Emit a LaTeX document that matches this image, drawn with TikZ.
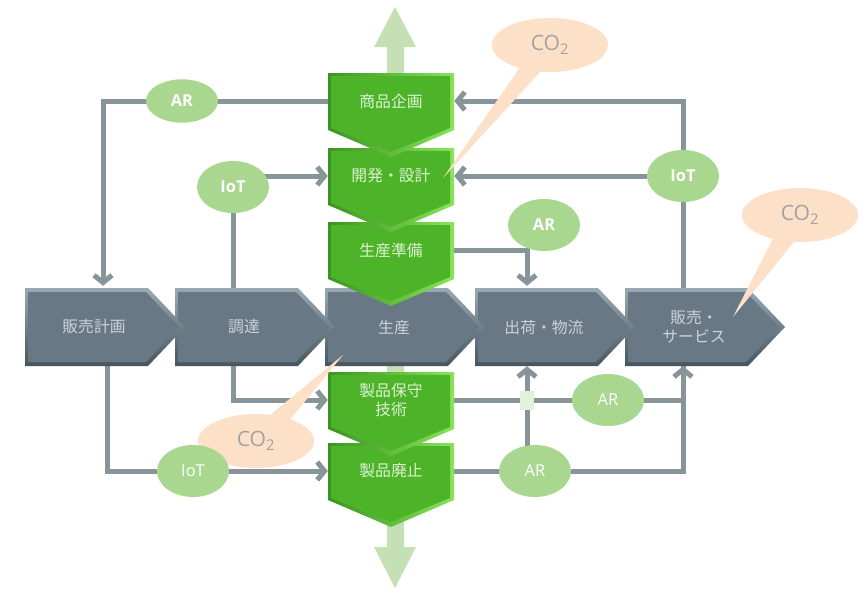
\documentclass[tikz,border=0pt]{standalone}
\usepackage{fontspec}
\setmainfont{Open Sans}
\newfontfamily\jpfont{Noto Sans CJK JP}
\usetikzlibrary{calc}
\usetikzlibrary{shapes.geometric}
\usetikzlibrary{shapes.callouts}
\usetikzlibrary{arrows.meta}

\definecolor{wiregray}{HTML}{87959A}
\definecolor{procmain}{HTML}{687985}
\definecolor{proctop}{HTML}{9AAAB5}
\definecolor{procbot}{HTML}{48555E}
\definecolor{procfont}{HTML}{CBD3D8}
\definecolor{stepmain}{HTML}{4DB42A}
\definecolor{stepleft}{HTML}{3A9420}
\definecolor{stepright}{HTML}{8AE35A}
\definecolor{stepfont}{HTML}{DDF1D2}
\definecolor{flowarrow}{HTML}{C6E0B5}
\definecolor{techfill}{HTML}{A9D78F}
\definecolor{cofill}{HTML}{FCE0C8}
\definecolor{cofont}{HTML}{A3A3A3}
\definecolor{crossfill}{HTML}{E3F0DA}

\pgfdeclarelayer{back}
\pgfdeclarelayer{wires}
\pgfsetlayers{back,wires,main}

\tikzset{
  proctext/.style={minimum width=4.2cm, minimum height=2.34cm, inner sep=0pt,
    text=procfont, align=center, font=\jpfont\fontsize{13.5}{16}\selectfont},
  steptext/.style={minimum width=3.78cm, minimum height=1.71cm, inner sep=0pt,
    text=stepfont, align=center, font=\jpfont\fontsize{13.5}{16.5}\selectfont},
  techtag/.style={ellipse, fill=techfill, text=white, inner sep=0pt,
    minimum width=2.16cm, minimum height=1.56cm, font=\fontsize{14}{16}\selectfont},
  techbold/.style={techtag, font=\bfseries\fontsize{14}{16}\selectfont},
  cobubble/.style={ellipse callout, fill=cofill, text=cofont, inner sep=0pt,
    minimum width=3.48cm, minimum height=1.62cm, callout pointer arc=22,
    font=\fontsize{18}{20}\selectfont},
  conn/.style={draw=wiregray, line width=0.15cm}
}

% gray process step: name, left x, text
\newcommand{\procchev}[3]{%
  \shade[top color=proctop, bottom color=procbot]
    (#2,288) -- (#2+123,288) -- (#2+160,327) -- (#2+123,366) -- (#2,366) -- cycle;
  \fill[procmain]
    (#2+3,292) -- (#2+121,292) -- (#2+154,327) -- (#2+121,362) -- (#2+3,362) -- cycle;
  \node[proctext] (#1) at (#2+69,327) {#3};
}

% green life cycle step: name, top y, text
\newcommand{\stepchev}[3]{%
  \shade[left color=stepleft, right color=stepright]
    (328,#2) -- (454,#2) -- (454,#2+57) -- (391,#2+84) -- (328,#2+57) -- cycle;
  \fill[stepmain]
    (331,#2+3) -- (450,#2+3) -- (450,#2+55) -- (391,#2+79) -- (331,#2+55) -- cycle;
  \node[steptext] (#1) at (391,#2+28) {#3};
}

\begin{document}
\begin{tikzpicture}[x=0.03cm, y=-0.03cm, >={Straight Barb[length=2.2mm,width=5.4mm]}]
  \useasboundingbox (0,0) rectangle (868,589);

  \begin{pgfonlayer}{back}
    \fill[white] (0,0) rectangle (868,589);
    % big up/down arrow
    \fill[flowarrow] (387,47) -- (374,47) -- (395,7) -- (416,47) -- (404,47)
      -- (404,547) -- (416,547) -- (395,588) -- (374,547) -- (387,547) -- cycle;
  \end{pgfonlayer}

  % Process chain
  \procchev{sales}{625}{販売・\\サービス}
  \procchev{ship}{475}{出荷・物流}
  \procchev{prod}{325}{生産}
  \procchev{procure}{175}{調達}
  \procchev{saleplan}{25}{販売計画}

  % Life cycle
  \stepchev{disposal}{443}{製品廃止}
  \stepchev{maint}{372}{製品保守\\技術}
  \stepchev{prep}{222}{生産準備}
  \stepchev{dev}{148}{開発・設計}
  \stepchev{plan}{73}{商品企画}

  % CO2
  \node[cobubble, callout absolute pointer={(443,178)}] (coTop) at (550,45) {CO\textsubscript{2}};
  \node[cobubble, callout absolute pointer={(733,317)}] (coRight) at (800,215) {CO\textsubscript{2}};
  \node[cobubble, callout absolute pointer={(343,355)}] (coLeft) at (256,441) {CO\textsubscript{2}};

  % AR / IoT
  \node[techbold, minimum height=1.3cm] (arTop) at (182,101) {AR};
  \node[techbold] (iotL) at (233,187) {IoT};
  \node[techbold] (arMid) at (544,225) {AR};
  \node[techbold] (iotR) at (683,176) {IoT};
  \node[techtag] (arR) at (608,400) {AR};
  \node[techtag] (arB) at (535,471) {AR};
  \node[techtag] (iotB) at (193,471) {IoT};

  \coordinate (shipin) at ($(ship.south)+(-17,0)$);

  % Connectors
  \begin{pgfonlayer}{wires}
    \draw[conn,->] (plan.west) -| ($(saleplan.north)+(9,-2)$);
    \draw[conn,->] ($(sales.north)+(-11,0)$) |- (plan.east);
    \draw[conn,->] (iotR) -- (dev.east);
    \draw[conn] (iotL) -- (iotL |- procure.north);
    \draw[conn,->] (iotL |- dev.west) -- (dev.west);
    \draw[conn,->] (iotL |- procure.south) |- (maint.west);
    \draw[conn,->] ($(saleplan.south)+(13,0)$) |- (disposal.west);
    \draw[conn,->] (prep.east) -| ($(ship.north)+(-17,-2)$);
    \draw[conn,->] (maint.east) -| ($(sales.south)+(-11,0)$);
    \draw[conn] (disposal.east) -| ($(sales.south)+(-11,0)$);
    \draw[conn,->] (shipin |- arB) -- (shipin);
  \end{pgfonlayer}

  % crossing mark
  \fill[crossfill] ($(shipin |- maint.east)+(-7,-9)$) rectangle ++(14,19);
\end{tikzpicture}
\end{document}
